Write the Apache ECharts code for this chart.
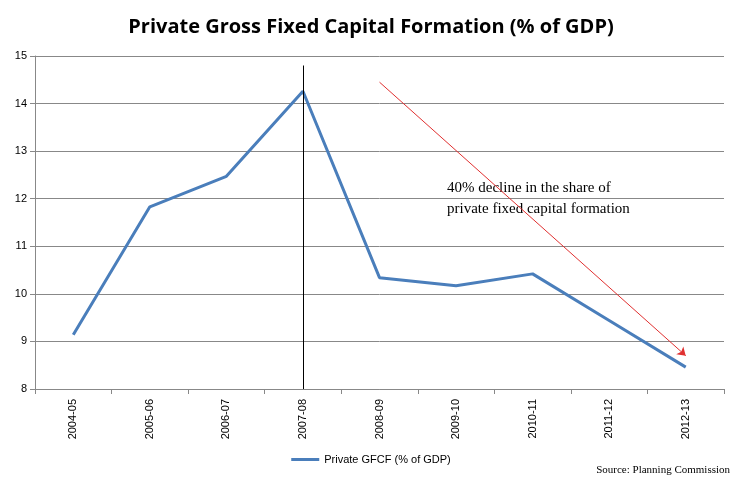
<!DOCTYPE html>
<html><head><meta charset="utf-8">
<script src="https://cdn.jsdelivr.net/npm/echarts@6/dist/echarts.min.js"></script>
<style>html,body{margin:0;padding:0;background:#fff}#c{width:742px;height:484px}</style>
</head><body><div id="c"></div>
<script>
const categories = ['2004-05','2005-06','2006-07','2007-08','2008-09','2009-10','2010-11','2011-12','2012-13'];
const gfcf = [9.14, 11.83, 12.47, 14.26, 10.34, 10.17, 10.42, 9.44, 8.46];
const yTicks = {min: 8, max: 15, interval: 1};
const chart = echarts.init(document.getElementById('c'));
chart.setOption({
  animation: false,
  title: {text: 'Private Gross Fixed Capital Formation (% of GDP)', left: 'center', top: 12,
    textStyle: {fontFamily: 'Open Sans', fontSize: 20, fontWeight: 'bold', color: '#000'}},
  grid: {left: 35, right: 18, top: 56, bottom: 95},
  xAxis: {type: 'category', data: categories, boundaryGap: true,
    axisLine: {lineStyle: {color: '#888'}}, axisTick: {show: true, lineStyle:{color:'#888'}},
    axisLabel: {rotate: 90, color: '#000', fontFamily: 'Liberation Sans', fontSize: 11, margin: 10}},
  yAxis: {type: 'value', min: yTicks.min, max: yTicks.max, interval: yTicks.interval,
    axisLine: {show: true, lineStyle: {color: '#888'}}, axisTick: {show: true, lineStyle:{color:'#888'}},
    splitLine: {lineStyle: {color: '#888'}},
    axisLabel: {color: '#000', fontFamily: 'Liberation Sans', fontSize: 11}},
  legend: {bottom: 14, left: 'center', data: ['Private GFCF (% of GDP)'], icon: 'rect', itemWidth: 28, itemHeight: 3,
    textStyle: {fontFamily: 'Liberation Sans', fontSize: 11, color: '#000'}},
  series: [{name: 'Private GFCF (% of GDP)', type: 'line', data: gfcf, symbol: 'none', z: 3,
    lineStyle: {color: '#4a7ebb', width: 3}, itemStyle: {color: '#4a7ebb'},
    markLine: {silent: true, symbol: ['none','none'], label: {show: false},
      data: [
        [{coord: ['2007-08', 14.8], lineStyle: {color: '#000', width: 1, type: 'solid'}}, {coord: ['2007-08', 8]}],
        [{coord: ['2008-09', 14.45], symbol: 'none', lineStyle: {color: '#e03030', width: 1, type: 'solid'}},
         {coord: ['2012-13', 8.7], symbol: 'arrow', symbolSize: 8}]
      ]}}],
  graphic: [
    {type: 'text', left: 447, top: 178, style: {text: '40% decline in the share of\nprivate fixed capital formation',
      font: '15px "Liberation Serif"', fill: '#000', lineHeight: 21}},
    {type: 'text', right: 12, bottom: 8, style: {text: 'Source: Planning Commission', font: '11px "Liberation Serif"', fill: '#000'}}
  ]
});
</script></body></html>
